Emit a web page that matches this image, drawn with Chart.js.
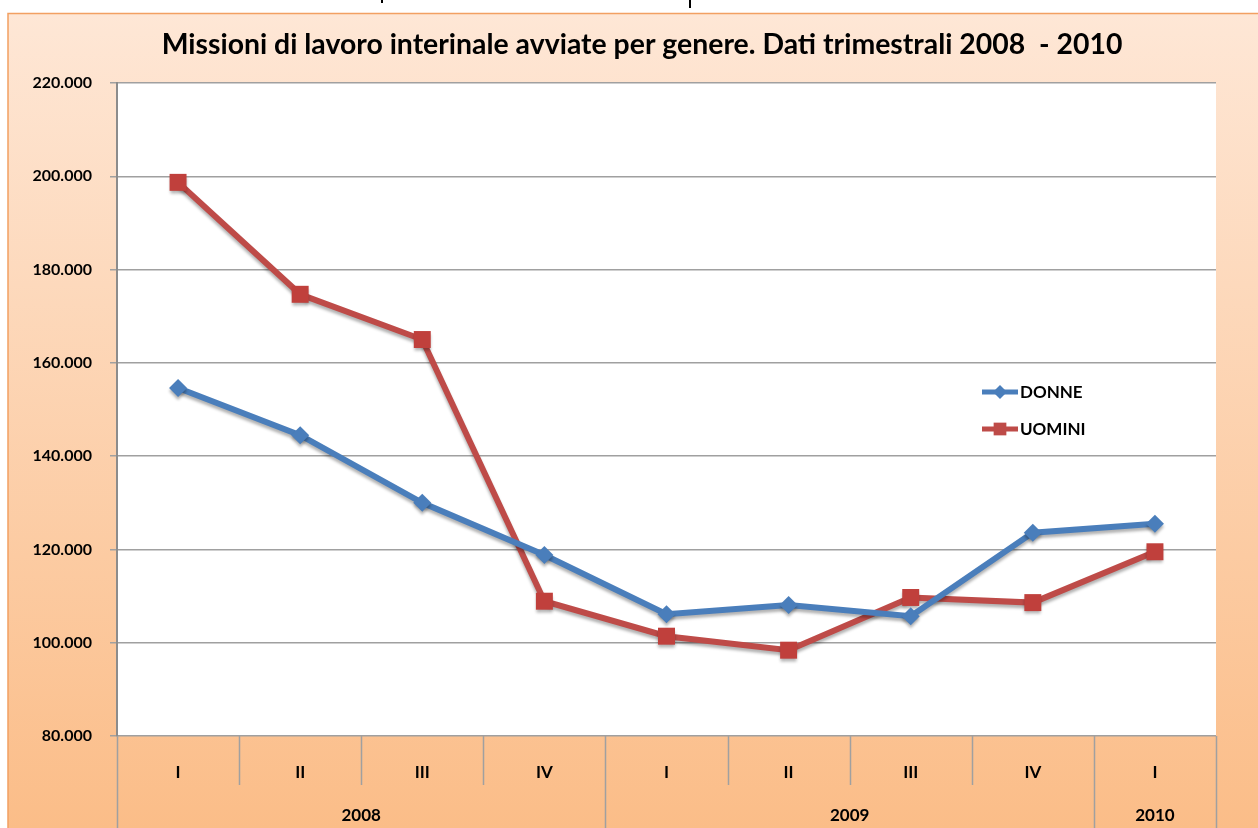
<!DOCTYPE html>
<html>
<head>
<meta charset="utf-8">
<script src="https://cdn.jsdelivr.net/npm/chart.js@4/dist/chart.umd.min.js"></script>
<style>
    body { margin: 0; background: #ffffff; }
    #wrap { position: relative; width: 1258px; height: 828px; }
</style>
</head>
<body>
<div id="wrap"><canvas id="lineChart" width="1258" height="828"></canvas></div>
<script>
// Dati trimestrali
const quarters = ["I", "II", "III", "IV", "I", "II", "III", "IV", "I"];
const years = ["2008", "2009", "2010"];
const yearSpans = [4, 4, 1];
const donne = [154600, 144500, 130000, 118800, 106100, 108100, 105700, 123600, 125500];
const uomini = [198700, 174700, 165000, 108900, 101400, 98400, 109700, 108600, 119500];
const yTicks = [80000, 100000, 120000, 140000, 160000, 180000, 200000, 220000];
const titolo = "Missioni di lavoro interinale avviate per genere. Dati trimestrali 2008  - 2010";

const FONT = "Lato, 'Open Sans', sans-serif";

function formatIt(v) {
    return String(v).replace(/\B(?=(\d{3})+(?!\d))/g, ".");
}

// sfondo sfumato, area bianca, titolo, bande dell'asse x, legenda
const decorPlugin = {
    id: "decor",
    beforeDraw(chart) {
        const ctx = chart.ctx;
        const area = chart.chartArea;
        ctx.save();
        ctx.fillStyle = "#ffffff";
        ctx.fillRect(0, 0, chart.width, chart.height);
        const g = ctx.createLinearGradient(0, 13, 0, chart.height);
        g.addColorStop(0, "#fee7d6");
        g.addColorStop(1, "#fbbd88");
        ctx.fillStyle = g;
        ctx.fillRect(8, 13, chart.width - 8, chart.height - 13);
        ctx.strokeStyle = "#f2a062";
        ctx.lineWidth = 1.5;
        ctx.beginPath();
        ctx.moveTo(8, chart.height);
        ctx.lineTo(8, 13.5);
        ctx.lineTo(chart.width, 13.5);
        ctx.stroke();
        // segni in alto
        ctx.strokeStyle = "#000000";
        ctx.lineWidth = 2;
        ctx.beginPath();
        ctx.moveTo(382, 0); ctx.lineTo(382, 3);
        ctx.moveTo(690, 0); ctx.lineTo(690, 8);
        ctx.stroke();
        ctx.fillStyle = "#ffffff";
        ctx.fillRect(area.left, area.top, area.right - area.left, area.bottom - area.top);

        // titolo
        ctx.fillStyle = "#000000";
        ctx.font = "bold 28.4px " + FONT;
        ctx.textAlign = "center";
        ctx.textBaseline = "middle";
        ctx.fillText(titolo, 642, 45);
        ctx.restore();
    },
    afterDraw(chart) {
        const ctx = chart.ctx;
        const area = chart.chartArea;
        const x = chart.scales.x;
        const n = quarters.length;
        const w = (x.right - x.left) / n;
        const rowY = area.bottom + 49;
        ctx.save();
        ctx.strokeStyle = "#a0a0a0";
        ctx.lineWidth = 1.5;
        ctx.beginPath();
        for (let i = 0; i <= n; i++) {
            const px = Math.round(x.left + i * w) + 0.5;
            ctx.moveTo(px, area.bottom);
            ctx.lineTo(px, rowY);
        }
        let idx = 0;
        const bounds = [0];
        yearSpans.forEach(s => { idx += s; bounds.push(idx); });
        bounds.forEach(b => {
            const px = Math.round(x.left + b * w) + 0.5;
            ctx.moveTo(px, rowY);
            ctx.lineTo(px, chart.height);
        });
        ctx.stroke();

        ctx.fillStyle = "#000000";
        ctx.font = "bold 17px " + FONT;
        ctx.textAlign = "center";
        ctx.textBaseline = "middle";
        years.forEach((yr, k) => {
            const cx = x.left + (bounds[k] + bounds[k + 1]) / 2 * w;
            ctx.fillText(yr, cx, 816);
        });

        // legenda
        const items = [
            { text: "DONNE", color: "#4a7ebb", style: "rectRot", r: 7 },
            { text: "UOMINI", color: "#be4b48", style: "rect", r: 9 }
        ];
        const lx = area.right - 234;
        items.forEach((it, k) => {
            const ly = 392 + k * 37;
            ctx.strokeStyle = it.color;
            ctx.lineWidth = 5;
            ctx.beginPath();
            ctx.moveTo(lx, ly);
            ctx.lineTo(lx + 36, ly);
            ctx.stroke();
            ctx.fillStyle = it.color;
            Chart.helpers.drawPoint(ctx, { pointStyle: it.style, radius: it.r, borderWidth: 0, rotation: 0 }, lx + 18, ly);
            ctx.fillStyle = "#000000";
            ctx.font = "bold 17px " + FONT;
            ctx.textAlign = "left";
            ctx.fillText(it.text, lx + 38, ly + 1);
        });
        ctx.restore();
    },
    beforeDatasetsDraw(chart) {
        const ctx = chart.ctx;
        ctx.save();
        ctx.shadowColor = "rgba(0,0,0,0.3)";
        ctx.shadowBlur = 3;
        ctx.shadowOffsetY = 3;
    },
    afterDatasetsDraw(chart) {
        chart.ctx.restore();
    }
};

const ctxLine = document.getElementById("lineChart").getContext("2d");
new Chart(ctxLine, {
    type: "line",
    data: {
        labels: quarters,
        datasets: [
            {
                label: "DONNE",
                data: donne,
                borderColor: "#4a7ebb",
                backgroundColor: "#4a7ebb",
                borderWidth: 6,
                pointStyle: "rectRot",
                pointRadius: 9,
                pointBorderWidth: 0,
                tension: 0,
            },
            {
                label: "UOMINI",
                data: uomini,
                borderColor: "#be4b48",
                backgroundColor: "#c0403c",
                borderWidth: 6,
                pointStyle: "rect",
                pointRadius: 12,
                pointBorderWidth: 0,
                tension: 0,
            },
        ],
    },
    options: {
        responsive: false,
        animation: false,
        layout: {
            padding: { left: 0, right: 42, top: 83, bottom: 0 },
        },
        scales: {
            x: {
                offset: true,
                grid: { display: false },
                border: { display: false },
                ticks: {
                    color: "#000000",
                    font: { family: FONT, size: 17, weight: "bold" },
                    padding: 18,
                    maxRotation: 0,
                    autoSkip: false,
                },
                afterFit: function (scale) {
                    scale.height = 92;
                },
            },
            y: {
                min: 80000,
                max: 220000,
                afterBuildTicks: function (scale) {
                    scale.ticks = yTicks.map(v => ({ value: v }));
                },
                grid: {
                    color: "#a0a0a0",
                    lineWidth: 1.5,
                    tickLength: 7,
                },
                border: { color: "#8c8c8c", width: 2 },
                ticks: {
                    color: "#000000",
                    font: { family: FONT, size: 16, weight: "bold" },
                    padding: 18,
                    callback: function (value) {
                        return formatIt(value);
                    },
                },
                afterFit: function (scale) {
                    scale.width = 117;
                },
            },
        },
        plugins: {
            legend: { display: false },
            tooltip: { enabled: false },
            title: { display: false },
        },
    },
    plugins: [decorPlugin],
});
</script>
</body>
</html>
